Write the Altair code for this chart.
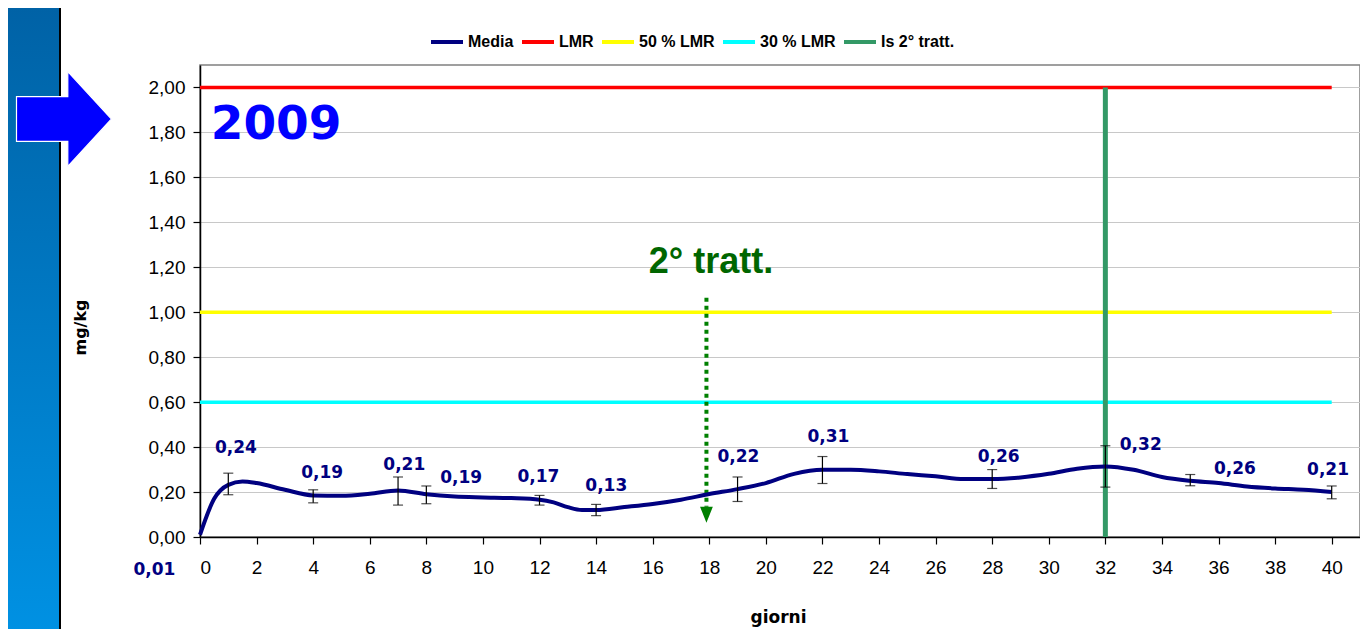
import altair as alt
import pandas as pd

# ---------------- data ----------------
curve_days = [0, 0.5, 1, 1.5, 2, 3, 4, 5, 6, 7, 8, 9, 10, 11, 12, 12.5, 13, 13.5, 14,
              15, 16, 17, 18, 19, 20, 21, 22, 23, 24, 25, 26, 27, 28, 29, 30, 31, 32,
              33, 34, 35, 36, 37, 38, 39, 40]
curve_vals = [0.01, 0.17, 0.232, 0.247, 0.240, 0.21, 0.185, 0.183, 0.192, 0.207, 0.19,
              0.18, 0.176, 0.173, 0.166, 0.154, 0.133, 0.12, 0.12,
              0.133, 0.147, 0.166, 0.191, 0.213, 0.24, 0.281, 0.299, 0.299, 0.292, 0.28,
              0.27, 0.258, 0.258, 0.265, 0.281, 0.304, 0.314, 0.299, 0.267, 0.25, 0.24,
              0.225, 0.216, 0.21, 0.2]

err_days = [1, 4, 7, 8, 12, 14, 19, 22, 28, 32, 35, 40]
err_lo = [0.188, 0.152, 0.142, 0.148, 0.142, 0.095, 0.158, 0.238, 0.216, 0.222, 0.228, 0.170]
err_hi = [0.284, 0.210, 0.267, 0.227, 0.185, 0.145, 0.267, 0.358, 0.300, 0.406, 0.278, 0.227]

label_text = ["0,01", "0,24", "0,19", "0,21", "0,19", "0,17", "0,13", "0,22", "0,31",
              "0,26", "0,32", "0,26", "0,21"]
# annotation anchor points (data units) for the value labels
label_x = [-1.61, 1.27, 4.32, 7.22, 9.23, 11.96, 14.36, 19.03, 22.21, 28.23, 33.25, 36.58, 39.87]
label_y = [-0.145, 0.397, 0.286, 0.321, 0.264, 0.268, 0.228, 0.357, 0.446, 0.357, 0.41, 0.304, 0.299]

ref_names = ["LMR", "50 % LMR", "30 % LMR"]
ref_vals = [2.0, 1.0, 0.6]
ref_end = 40
treat_name = "Is 2° tratt."
treat_day = 32
treat_top = 2.0

series_names = ["Media", "LMR", "50 % LMR", "30 % LMR", "Is 2° tratt."]
series_colors = ["#000080", "#ff0000", "#ffff00", "#00ffff", "#339966"]

x_ticks = list(range(0, 41, 2))
y_ticks = [0.0, 0.2, 0.4, 0.6, 0.8, 1.0, 1.2, 1.4, 1.6, 1.8, 2.0]

year_text = "2009"
year_pos = (2.69, 1.77)
tratt_text = "2° tratt."
tratt_text_pos = (18.06, 1.175)
tratt_day = 17.9
tratt_from = 1.065
tratt_to = 0.135
tratt_head = 0.099

# ---------------- tables ----------------
curve_df = pd.DataFrame({"day": curve_days, "val": curve_vals, "series": "Media"})
err_df = pd.DataFrame({"day": err_days, "lo": err_lo, "hi": err_hi})
lab_df = pd.DataFrame({"day": label_x, "val": label_y, "txt": label_text})
ref_df = pd.DataFrame({"series": ref_names, "val": ref_vals})
treat_df = pd.DataFrame({"series": [treat_name], "day": [treat_day]})
one = pd.DataFrame({"k": [0]})

xscale = alt.Scale(domain=[0, 41], nice=False)
yscale = alt.Scale(domain=[0, 2.1], nice=False)

color = alt.Color(
    "series:N",
    scale=alt.Scale(domain=series_names, range=series_colors),
    legend=alt.Legend(
        title=None, orient="none", legendX=229, legendY=-41, direction="horizontal",
        symbolType="stroke", symbolStrokeWidth=4, symbolSize=1024,
        labelFont="Liberation Sans", labelFontWeight="bold", labelFontSize=16,
        labelColor="black", columnPadding=0, labelOffset=3,
    ),
)

x_enc = alt.X(
    "day:Q", scale=xscale,
    axis=alt.Axis(
        title="giorni", values=x_ticks, grid=False, tickSize=7, labelPadding=14,
        titleX=578, titleY=80, titleBaseline="middle", titleAlign="center",
        titleFont="DejaVu Sans", titleFontWeight="bold", titleFontSize=17,
    ),
)
y_enc = alt.Y(
    "val:Q", scale=yscale,
    axis=alt.Axis(
        title="mg/kg", values=y_ticks, grid=True, tickSize=7, labelPadding=8,
        labelExpr="replace(format(datum.value, '.2f'), '.', ',')",
        titleX=-120, titleY=262, titleAngle=270, titleBaseline="middle", titleAlign="center",
        titleFont="DejaVu Sans", titleFontWeight="bold", titleFontSize=16,
    ),
)

# decor outside the plot: blue band, panel border, blue arrow
band = alt.Chart(one).mark_rect(
    color=alt.Gradient(
        gradient="linear",
        stops=[alt.GradientStop(color="#0062a6", offset=0),
               alt.GradientStop(color="#0092e4", offset=1)],
        x1=0, x2=0, y1=0, y2=1,
    )
).encode(x=alt.value(-192), x2=alt.value(-140), y=alt.value(-57), y2=alt.value(580))

border = alt.Chart(one).mark_rule(color="black", strokeWidth=2).encode(
    x=alt.value(-140), y=alt.value(-57), y2=alt.value(580)
)

arrow = alt.Chart(one).mark_point(
    shape="M -1 -0.47 L 0.08 -0.47 L 0.08 -1 L 1 0 L 0.08 1 L 0.08 0.47 L -1 0.47 Z",
    filled=True, fill="#0000ff", stroke="white", strokeWidth=1.2, opacity=1, size=9025,
).encode(x=alt.value(-136), y=alt.value(54))

refs = alt.Chart(ref_df).mark_rule(strokeWidth=3.5).encode(
    x=alt.datum(0, scale=xscale), x2=alt.datum(ref_end), y="val:Q", color=color
)

treat = alt.Chart(treat_df).mark_rule(strokeWidth=5).encode(
    x="day:Q", y=alt.datum(0, scale=yscale), y2=alt.datum(treat_top), color=color
)

line = alt.Chart(curve_df).mark_line(strokeWidth=4, interpolate="monotone").encode(
    x=x_enc, y=y_enc, color=color
)

err_rule = alt.Chart(err_df).mark_rule(color="black", strokeWidth=1.2).encode(
    x="day:Q", y="lo:Q", y2="hi:Q"
)
err_top = alt.Chart(err_df).mark_tick(color="black", orient="horizontal", size=10, thickness=1.2).encode(
    x="day:Q", y="hi:Q"
)
err_bot = alt.Chart(err_df).mark_tick(color="black", orient="horizontal", size=10, thickness=1.2).encode(
    x="day:Q", y="lo:Q"
)

labels = alt.Chart(lab_df).mark_text(
    font="DejaVu Sans", fontWeight="bold", fontSize=17, color="#000080",
    align="center", baseline="middle",
).encode(x="day:Q", y="val:Q", text="txt:N")

year = alt.Chart(one).mark_text(
    font="DejaVu Sans", fontWeight="bold", fontSize=47, color="#0000ff",
    align="center", baseline="alphabetic",
).encode(x=alt.datum(year_pos[0]), y=alt.datum(year_pos[1]), text=alt.value(year_text))

tratt_lbl = alt.Chart(one).mark_text(
    font="Liberation Sans", fontWeight="bold", fontSize=36, color="#006600",
    align="center", baseline="alphabetic",
).encode(x=alt.datum(tratt_text_pos[0]), y=alt.datum(tratt_text_pos[1]), text=alt.value(tratt_text))

tratt_line = alt.Chart(one).mark_rule(color="#008000", strokeWidth=4, strokeDash=[4, 4]).encode(
    x=alt.datum(tratt_day), y=alt.datum(tratt_from), y2=alt.datum(tratt_to)
)
tratt_arrow = alt.Chart(one).mark_point(
    shape="M -0.8 -1 L 0.8 -1 L 0 1 Z", filled=True, fill="#008000",
    stroke="#008000", strokeWidth=0, opacity=1, size=256,
).encode(x=alt.datum(tratt_day), y=alt.datum(tratt_head))

chart = alt.layer(
    band, border, arrow, refs, treat, tratt_line, tratt_arrow, line,
    err_rule, err_top, err_bot, labels, year, tratt_lbl,
).properties(
    width=1160, height=472,
    padding={"left": 192, "top": 57, "right": 0, "bottom": 92},
    autosize=alt.AutoSizeParams(type="none"),
    background="white",
).configure_view(
    stroke="#808080", strokeWidth=1.5
).configure_axis(
    labelFont="Liberation Sans", labelFontSize=19, labelColor="black",
    tickColor="black", domainColor="black", domainWidth=1.5, tickWidth=1.2,
    gridColor="#c8c8c8", gridWidth=1,
)

chart.save("out.html", embed_options={"renderer": "svg", "actions": False})
